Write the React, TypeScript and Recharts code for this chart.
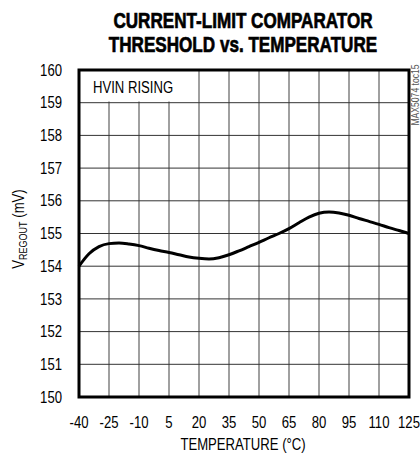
import React from 'react';
import { LineChart, Line, XAxis, YAxis, CartesianGrid, ReferenceArea } from 'recharts';

const temps = [-40, -35, -30, -25, -20, -15, -10, -5, 0, 5, 10, 15, 20, 25, 30, 35, 40, 45, 50, 55, 60, 65, 70, 75, 80, 85, 90, 95, 100, 105, 110, 115, 120, 125];
const threshold = [154.0, 154.38, 154.6, 154.69, 154.71, 154.68, 154.63, 154.55, 154.48, 154.42, 154.35, 154.28, 154.24, 154.22, 154.26, 154.35, 154.47, 154.6, 154.73, 154.87, 155.0, 155.15, 155.33, 155.5, 155.62, 155.66, 155.63, 155.56, 155.46, 155.37, 155.28, 155.18, 155.09, 155.0];
const xTicks = [-40, -25, -10, 5, 20, 35, 50, 65, 80, 95, 110, 125];
const yTicks = [150, 151, 152, 153, 154, 155, 156, 157, 158, 159, 160];

const data = temps.map((t, i) => ({ t, v: threshold[i] }));

const FONT = '"Liberation Sans", Arial, sans-serif';
const NARROW = 0.82;

const XTick = (props: any) => {
  const { x, y, payload } = props;
  return (
    <g transform={`translate(${x},${y}) scale(${NARROW},1)`}>
      <text x={0} y={0} dy="0.71em" textAnchor="middle" fontFamily={FONT} fontSize={16} fill="#000">
        {payload.value}
      </text>
    </g>
  );
};

const YTick = (props: any) => {
  const { x, y, payload } = props;
  return (
    <g transform={`translate(${x},${y}) scale(${NARROW},1)`}>
      <text x={0} y={0} dy="0.355em" textAnchor="end" fontFamily={FONT} fontSize={16} fill="#000">
        {payload.value}
      </text>
    </g>
  );
};

const YLabel = () => {
  const cx = 19;
  const cy = 229;
  return (
    <g transform={`translate(${cx},${cy}) rotate(-90) scale(${NARROW},1)`}>
      <text x={0} y={0} textAnchor="middle" dominantBaseline="central" fontFamily={FONT} fontSize={16} fill="#000">
        <tspan>V</tspan>
        <tspan fontSize={11} dy={4}>REGOUT</tspan>
        <tspan dy={-4}> (mV)</tspan>
      </text>
    </g>
  );
};

const XLabel = () => (
  <g transform={`translate(243,450) scale(${NARROW},1)`}>
    <text x={0} y={0} textAnchor="middle" fontFamily={FONT} fontSize={16} fill="#000">
      TEMPERATURE (°C)
    </text>
  </g>
);

const BoxLabel = () => (
  <g transform={`translate(93,93) scale(${NARROW},1)`}>
    <text x={0} y={0} textAnchor="start" fontFamily={FONT} fontSize={16} fill="#000">
      HVIN RISING
    </text>
  </g>
);

export default function App() {
  return (
    <div style={{ position: 'absolute', left: 0, top: 0, width: 420, height: 459, background: '#fff' }}>
      <LineChart width={420} height={459} data={data} margin={{ top: 70, right: 11, bottom: 0, left: 0 }}>
        <CartesianGrid horizontal={false} vertical stroke="#808080" strokeWidth={1.5} />
        <CartesianGrid horizontal vertical={false} stroke="#333" strokeWidth={1} />
        <XAxis
          dataKey="t"
          type="number"
          domain={[-40, 125]}
          ticks={xTicks}
          interval={0}
          height={62}
          axisLine={false}
          tickLine={false}
          tickSize={0}
          tickMargin={20}
          tick={<XTick />}
          label={<XLabel />}
        />
        <YAxis
          type="number"
          domain={[150, 160]}
          ticks={yTicks}
          interval={0}
          width={79}
          axisLine={false}
          tickLine={false}
          tickSize={0}
          tickMargin={17}
          tick={<YTick />}
          label={<YLabel />}
        />
        <ReferenceArea
          x1={-40}
          x2={17}
          y1={159.04}
          y2={160}
          fill="#fff"
          fillOpacity={1}
          stroke="none"
          label={<BoxLabel />}
        />
        <Line type="monotone" dataKey="v" stroke="#000" strokeWidth={3} dot={false} isAnimationActive={false} />
        <ReferenceArea x1={-40} x2={125} y1={150} y2={160} fill="none" stroke="#000" strokeWidth={3} />
      </LineChart>
      <svg width={420} height={459} style={{ position: 'absolute', left: 0, top: 0, pointerEvents: 'none' }}>
        <g transform="translate(243,28) scale(0.76,1)">
          <text x={0} y={0} textAnchor="middle" fontFamily={FONT} fontWeight="bold" fontSize={22.5} fill="#000" stroke="#000" strokeWidth={0.7}>
            CURRENT-LIMIT COMPARATOR
          </text>
        </g>
        <g transform="translate(243,52) scale(0.76,1)">
          <text x={0} y={0} textAnchor="middle" fontFamily={FONT} fontWeight="bold" fontSize={22.5} fill="#000" stroke="#000" strokeWidth={0.7}>
            THRESHOLD vs. TEMPERATURE
          </text>
        </g>
        <g transform="translate(415,95) rotate(-90) scale(0.82,1)">
          <text x={0} y={0} textAnchor="middle" dominantBaseline="central" fontFamily={FONT} fontSize={10.5} fill="#555">
            MAX5074 toc15
          </text>
        </g>
      </svg>
    </div>
  );
}
